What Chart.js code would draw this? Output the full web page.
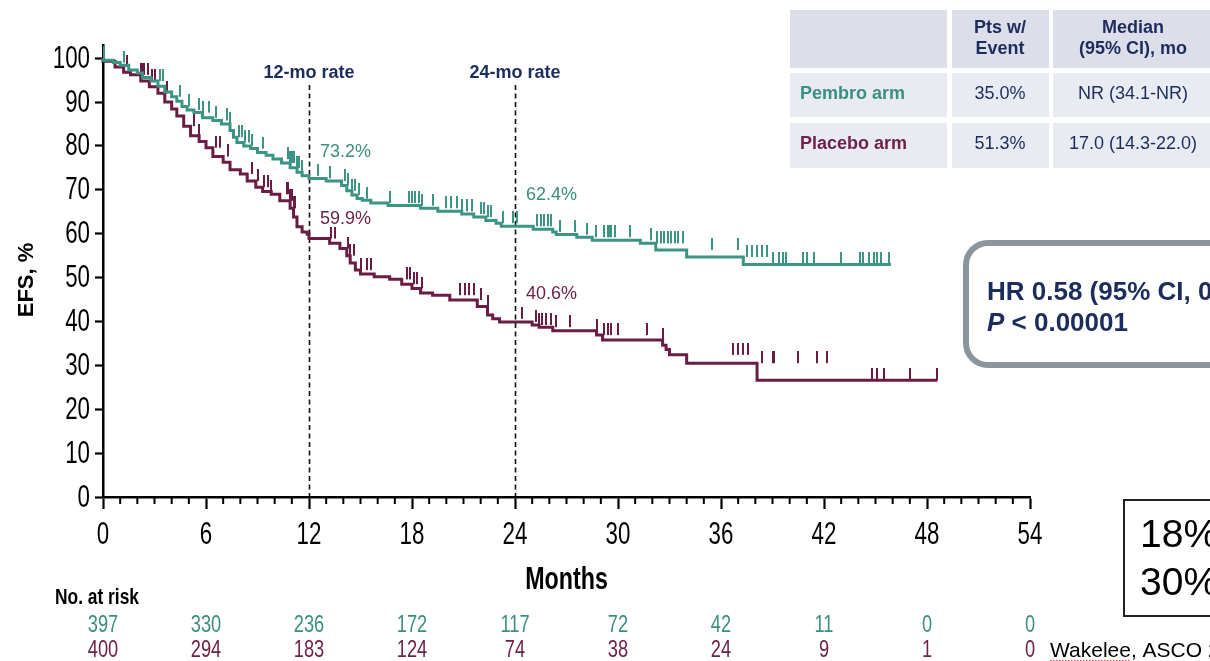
<!DOCTYPE html>
<html>
<head>
<meta charset="utf-8">
<script src="https://cdn.jsdelivr.net/npm/chart.js@4.4.1/dist/chart.umd.min.js"></script>
<style>
  html, body { margin: 0; padding: 0; background: #ffffff; }
  #wrap { width: 1210px; height: 661px; position: relative; }
</style>
</head>
<body>
<div id="wrap"><canvas id="km" width="1210" height="661"></canvas></div>
<script>
// Kaplan-Meier event-free survival, pembrolizumab vs placebo
const pembroTimes = [0, 0.6, 1.0, 1.5, 2.0, 2.3, 2.8, 3.2, 3.6, 4.0, 4.3, 4.6, 4.9, 5.3, 5.8, 6.4, 6.9, 7.4, 7.6, 7.8, 8.2, 8.6, 9.0, 9.5, 9.9, 10.4, 10.9, 11.3, 11.6, 12.0, 13.0, 13.9, 14.2, 14.5, 14.8, 15.1, 15.6, 16.6, 18.5, 19.5, 20.9, 21.6, 22.3, 22.9, 23.2, 25.06, 26.2, 26.4, 27.6, 28.5, 31.3, 32.2, 34.0, 37.3, 39.0, 45.9];
const pembroEFS   = [100, 99.5, 99.0, 98.4, 97.3, 96.6, 95.6, 94.8, 93.6, 92.3, 91.2, 90.2, 89.0, 88.2, 87.6, 86.4, 85.8, 85.0, 83.5, 82.0, 80.8, 80.0, 79.4, 78.5, 77.9, 77.0, 76.1, 75.0, 74.0, 73.2, 72.6, 72.0, 71.0, 69.8, 68.8, 68.0, 67.6, 67.0, 66.4, 65.8, 65.1, 64.5, 63.8, 63.0, 62.4, 61.7, 61.0, 60.4, 59.8, 59.2, 58.5, 57.8, 56.3, 54.7, 53.0, 53.0];

const placeboTimes = [0, 0.7, 1.2, 1.6, 2.2, 2.7, 3.2, 3.6, 4.0, 4.3, 4.7, 5.1, 5.6, 6.0, 6.4, 7.0, 7.4, 8.0, 8.4, 8.9, 9.3, 9.8, 10.3, 10.9, 11.1, 11.3, 11.6, 11.9, 12.0, 13.2, 13.8, 14.2, 14.4, 14.7, 15.0, 15.8, 16.7, 17.4, 18.0, 18.5, 19.2, 20.2, 21.8, 22.4, 22.7, 23.1, 25.0, 25.4, 26.2, 28.75, 29.1, 32.6, 32.8, 33.0, 34.0, 38.1, 43.4, 48.6];
const placeboEFS   = [100, 99.3, 98.0, 96.8, 96.2, 94.8, 93.5, 92.0, 90.0, 88.4, 86.8, 84.5, 82.3, 81.0, 79.6, 77.6, 76.3, 74.6, 73.6, 72.0, 70.6, 69.6, 69.0, 67.5, 65.8, 63.8, 61.6, 60.4, 59.9, 58.9, 57.8, 56.6, 55.0, 53.3, 51.7, 50.8, 50.2, 49.6, 48.5, 47.5, 46.5, 46.0, 44.9, 43.4, 41.5, 40.6, 39.9, 39.2, 38.7, 37.9, 36.9, 35.8, 34.6, 33.6, 32.4, 30.5, 26.6, 26.6];

// censoring times (months)
const pembroCensored = [0.05, 1.2, 3.3, 3.5, 4.5, 5.0, 5.6, 5.8, 6.2, 6.6, 7.2, 7.4, 7.9, 8.1, 8.3, 8.5, 8.7, 9.3, 10.8, 10.9, 11.0, 11.1, 11.3, 11.4, 11.6, 12.5, 13.2, 14.1, 14.3, 14.5, 14.7, 14.9, 15.4, 16.7, 17.8, 18.0, 18.2, 18.4, 18.6, 19.2, 20.0, 20.3, 20.6, 20.9, 21.2, 21.5, 22.0, 22.2, 22.4, 22.6, 23.3, 23.9, 24.1, 25.3, 25.5, 25.7, 25.9, 26.1, 26.6, 27.5, 28.2, 28.7, 29.2, 29.4, 29.5, 29.6, 29.8, 30.7, 31.9, 32.3, 32.5, 32.7, 32.9, 33.1, 33.3, 33.5, 33.8, 35.5, 37.0, 37.5, 37.8, 38.1, 38.4, 38.7, 39.0, 39.4, 39.6, 39.8, 40.8, 41.0, 41.4, 43.0, 44.1, 44.3, 44.6, 44.9, 45.1, 45.3, 45.8];
const placeboCensored = [1.4, 2.2, 2.3, 2.4, 2.6, 2.85, 3.0, 3.7, 5.3, 5.6, 6.6, 6.8, 7.3, 8.7, 9.0, 9.4, 9.6, 9.8, 10.7, 10.8, 10.9, 11.0, 11.1, 11.2, 13.3, 13.5, 14.3, 14.4, 14.6, 15.0, 15.4, 15.6, 17.7, 17.9, 18.1, 18.3, 18.6, 20.8, 21.1, 21.3, 21.6, 22.0, 22.4, 24.4, 25.2, 25.4, 25.6, 25.8, 26.1, 26.4, 27.2, 28.8, 29.2, 29.4, 29.6, 30.0, 31.7, 32.6, 36.7, 37.0, 37.3, 37.6, 38.4, 39.0, 39.1, 40.5, 41.6, 42.2, 44.8, 45.1, 45.5, 47.0, 48.6];

// landmark rates
const landmarkMonths = [12, 24];
const landmarkLabels = ['12-mo rate', '24-mo rate'];
const pembroRates = [73.2, 62.4];
const placeboRates = [59.9, 40.6];

// axis ticks
const monthTicks = [0, 6, 12, 18, 24, 30, 36, 42, 48, 54];
const efsTicks = [0, 10, 20, 30, 40, 50, 60, 70, 80, 90, 100];

// numbers at risk
const riskMonths = [0, 6, 12, 18, 24, 30, 36, 42, 48, 54];
const pembroRisk = [397, 330, 236, 172, 117, 72, 42, 11, 0, 0];
const placeboRisk = [400, 294, 183, 124, 74, 38, 24, 9, 1, 0];

// summary table
const tableHeader = [['', ''], ['Pts w/', 'Event'], ['Median', '(95% CI), mo']];
const armNames = ['Pembro arm', 'Placebo arm'];
const armEventPct = ['35.0%', '51.3%'];
const armMedian = ['NR (34.1-NR)', '17.0 (14.3-22.0)'];

const hrText = 'HR 0.58 (95% CI, 0.46-0.72)';
const pText = '< 0.00001';
const boxLines = ['18%', '30%'];
const citation = 'Wakelee, ASCO 2023';

const TEAL = '#3c9484';
const TEAL_TXT = '#3b8f7f';
const MAROON = '#6b1c45';
const MAROON_TXT = '#6e2149';
const NAVY = '#1c2c5c';
const SANS = '"Liberation Sans", Arial, sans-serif';

function stepValue(times, values, t) {
  let v = values[0];
  for (let i = 0; i < times.length; i++) {
    if (times[i] <= t) v = values[i]; else break;
  }
  return v;
}

function censorMark(color) {
  const c = document.createElement('canvas');
  c.width = 2; c.height = 24;
  const g = c.getContext('2d');
  g.fillStyle = color;
  g.fillRect(0, 0, 2, 12);
  return c;
}

// condensed text: squeeze the glyphs horizontally around the anchor point
function narrowText(ctx, text, x, y, align, squeeze) {
  ctx.save();
  ctx.translate(x, y);
  ctx.scale(squeeze, 1);
  ctx.textAlign = align;
  ctx.fillText(text, 0, 0);
  ctx.restore();
}

const pembroLine = pembroTimes.map((t, i) => ({ x: t, y: pembroEFS[i] }));
const placeboLine = placeboTimes.map((t, i) => ({ x: t, y: placeboEFS[i] }));
const pembroCens = pembroCensored.map(t => ({ x: t, y: stepValue(pembroTimes, pembroEFS, t) }));
const placeboCens = placeboCensored.map(t => ({ x: t, y: stepValue(placeboTimes, placeboEFS, t) }));

const overlay = {
  id: 'overlay',
  beforeDatasetsDraw(chart) {
    const { ctx, chartArea: a, scales: { x } } = chart;
    ctx.save();
    // landmark dashed verticals
    ctx.strokeStyle = '#111';
    ctx.lineWidth = 1.6;
    ctx.setLineDash([5, 3.5]);
    landmarkMonths.forEach(m => {
      const px = Math.round(x.getPixelForValue(m)) + 0.5;
      ctx.beginPath();
      ctx.moveTo(px, a.top + 40);
      ctx.lineTo(px, a.bottom);
      ctx.stroke();
    });
    ctx.setLineDash([]);
    // minor month ticks
    ctx.strokeStyle = '#000';
    ctx.lineWidth = 2;
    for (let m = 0; m <= 54; m++) {
      if (m % 6 === 0) continue;
      const px = x.getPixelForValue(m);
      ctx.beginPath();
      ctx.moveTo(px, a.bottom);
      ctx.lineTo(px, a.bottom + 7);
      ctx.stroke();
    }
    ctx.restore();
  },
  afterDraw(chart) {
    const { ctx, chartArea: a, scales: { x, y } } = chart;
    ctx.save();
    ctx.textBaseline = 'middle';

    // axis tick labels
    ctx.fillStyle = '#000';
    ctx.font = '31px ' + SANS;
    y.ticks.forEach(t => narrowText(ctx, String(t.value), a.left - 13, y.getPixelForValue(t.value) + 1, 'right', 0.72));
    x.ticks.forEach(t => narrowText(ctx, String(t.value), x.getPixelForValue(t.value), a.bottom + 38, 'center', 0.72));

    // landmark headings
    ctx.fillStyle = NAVY;
    ctx.font = 'bold 18px ' + SANS;
    ctx.textAlign = 'center';
    landmarkMonths.forEach((m, i) => ctx.fillText(landmarkLabels[i], x.getPixelForValue(m), 73));

    // landmark values
    ctx.font = '18px ' + SANS;
    ctx.textAlign = 'left';
    const pOff = [-24, -28], cOff = [-15, -25];
    landmarkMonths.forEach((m, i) => {
      const px = x.getPixelForValue(m) + 11;
      ctx.fillStyle = TEAL_TXT;
      ctx.fillText(pembroRates[i].toFixed(1) + '%', px, y.getPixelForValue(pembroRates[i]) + pOff[i]);
      ctx.fillStyle = MAROON_TXT;
      ctx.fillText(placeboRates[i].toFixed(1) + '%', px, y.getPixelForValue(placeboRates[i]) + cOff[i]);
    });

    // axis titles
    ctx.fillStyle = '#000';
    ctx.save();
    ctx.translate(27, 280);
    ctx.rotate(-Math.PI / 2);
    ctx.textAlign = 'center';
    ctx.font = 'bold 22px ' + SANS;
    ctx.fillText('EFS, %', 0, 0);
    ctx.restore();
    ctx.font = 'bold 31px ' + SANS;
    narrowText(ctx, 'Months', (a.left + a.right) / 2, 580, 'center', 0.75);

    // numbers at risk
    ctx.font = 'bold 22px ' + SANS;
    narrowText(ctx, 'No. at risk', 55, 598, 'left', 0.79);
    ctx.font = '24px ' + SANS;
    riskMonths.forEach((m, i) => {
      const px = x.getPixelForValue(m);
      ctx.fillStyle = TEAL_TXT;
      narrowText(ctx, String(pembroRisk[i]), px, 625, 'center', 0.76);
      ctx.fillStyle = MAROON_TXT;
      narrowText(ctx, String(placeboRisk[i]), px, 650, 'center', 0.76);
    });

    // summary table
    const cols = [[790, 947], [952, 1049], [1053, 1215]];
    const rows = [[10, 68], [73, 117], [123, 168]];
    rows.forEach((r, ri) => {
      cols.forEach(c => {
        ctx.fillStyle = ri === 0 ? '#dcdeea' : '#e9ebf2';
        ctx.fillRect(c[0], r[0], c[1] - c[0], r[1] - r[0]);
      });
    });
    ctx.fillStyle = NAVY;
    ctx.font = 'bold 18px ' + SANS;
    ctx.textAlign = 'center';
    for (let ci = 1; ci < 3; ci++) {
      ctx.fillText(tableHeader[ci][0], ci === 1 ? 1000 : 1133, 28);
      ctx.fillText(tableHeader[ci][1], ci === 1 ? 1000 : 1133, 49);
    }
    armNames.forEach((n, i) => {
      const cy = i === 0 ? 94 : 144;
      ctx.textAlign = 'left';
      ctx.font = 'bold 18px ' + SANS;
      ctx.fillStyle = i === 0 ? TEAL_TXT : MAROON_TXT;
      ctx.fillText(n, 800, cy);
      ctx.textAlign = 'center';
      ctx.font = '18px ' + SANS;
      ctx.fillStyle = NAVY;
      ctx.fillText(armEventPct[i], 1000, cy);
      ctx.fillText(armMedian[i], 1133, cy);
    });

    // hazard ratio box
    ctx.strokeStyle = '#8b959e';
    ctx.lineWidth = 6;
    ctx.beginPath();
    ctx.roundRect(966, 243, 300, 122, 22);
    ctx.stroke();
    ctx.fillStyle = NAVY;
    ctx.textAlign = 'left';
    ctx.font = 'bold 26px ' + SANS;
    ctx.fillText(hrText, 987, 293);
    ctx.font = 'italic bold 26px ' + SANS;
    ctx.fillText('P', 987, 324);
    const pw = ctx.measureText('P ').width;
    ctx.font = 'bold 26px ' + SANS;
    ctx.fillText(pText, 987 + pw, 324);

    // outlined rate box
    ctx.strokeStyle = '#222';
    ctx.lineWidth = 2;
    ctx.strokeRect(1124, 500, 200, 116);
    ctx.fillStyle = '#000';
    ctx.textBaseline = 'alphabetic';
    ctx.font = '39px ' + SANS;
    ctx.fillText(boxLines[0], 1140, 547);
    ctx.fillText(boxLines[1], 1140, 595);

    // citation
    ctx.font = '21px ' + SANS;
    ctx.fillText(citation, 1050, 657);
    const cw = ctx.measureText('Wakelee').width;
    ctx.strokeStyle = '#e04040';
    ctx.lineWidth = 1;
    ctx.setLineDash([1.5, 1.5]);
    ctx.beginPath();
    ctx.moveTo(1050, 660.5);
    ctx.lineTo(1050 + cw, 660.5);
    ctx.stroke();
    ctx.restore();
  }
};

new Chart(document.getElementById('km'), {
  type: 'line',
  data: {
    datasets: [
      { label: 'Pembro arm', data: pembroLine, borderColor: TEAL, borderWidth: 3, stepped: 'after', pointRadius: 0, fill: false, clip: false },
      { label: 'Pembro censored', type: 'scatter', data: pembroCens, pointStyle: censorMark(TEAL), pointRadius: 6, showLine: false, clip: false },
      { label: 'Placebo arm', data: placeboLine, borderColor: MAROON, borderWidth: 3, stepped: 'after', pointRadius: 0, fill: false, clip: false },
      { label: 'Placebo censored', type: 'scatter', data: placeboCens, pointStyle: censorMark(MAROON), pointRadius: 6, showLine: false, clip: false }
    ]
  },
  options: {
    responsive: false,
    animation: false,
    events: [],
    layout: { padding: { top: 45, right: 180, left: 0, bottom: 0 } },
    plugins: { legend: { display: false }, tooltip: { enabled: false } },
    scales: {
      x: {
        type: 'linear', min: 0, max: 54,
        afterFit: s => { s.height = 164; },
        afterBuildTicks: s => { s.ticks = monthTicks.map(v => ({ value: v })); },
        ticks: { display: false, autoSkip: false },
        grid: { drawOnChartArea: false, drawTicks: true, tickLength: 12, tickWidth: 2.2, tickColor: '#000' },
        border: { display: true, color: '#000', width: 2.5 }
      },
      y: {
        type: 'linear', min: 0, max: 103,
        afterFit: s => { s.width = 103; },
        afterBuildTicks: s => { s.ticks = efsTicks.map(v => ({ value: v })); },
        ticks: { display: false, autoSkip: false },
        grid: { drawOnChartArea: false, drawTicks: true, tickLength: 8, tickWidth: 2.2, tickColor: '#000' },
        border: { display: true, color: '#000', width: 2.5 }
      }
    }
  },
  plugins: [overlay]
});
</script>
</body>
</html>
